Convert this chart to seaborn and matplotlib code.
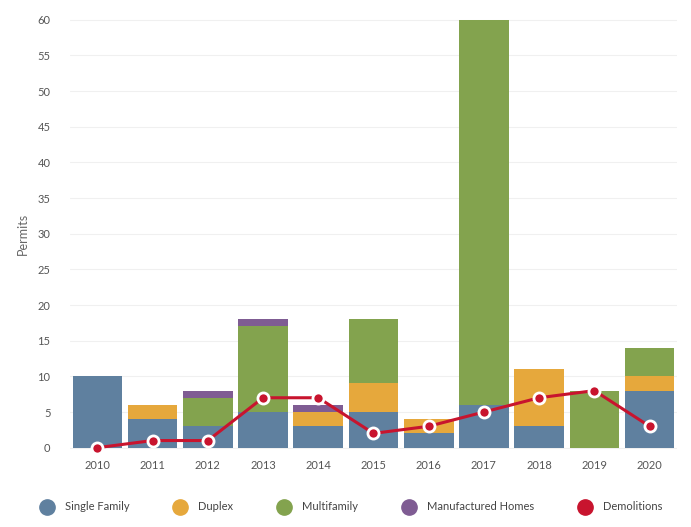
import matplotlib

matplotlib.use("Agg")
import matplotlib.pyplot as plt  # noqa: E402
import numpy as np  # noqa: E402
import pandas as pd  # noqa: E402
import seaborn as sns  # noqa: E402
from matplotlib.lines import Line2D  # noqa: E402

years = ["2010", "2011", "2012", "2013", "2014", "2015", "2016", "2017", "2018", "2019", "2020"]
single_family = [10, 4, 3, 5, 3, 5, 2, 6, 3, 0, 8]
duplex = [0, 2, 0, 0, 2, 4, 2, 0, 8, 0, 2]
multifamily = [0, 0, 4, 12, 0, 9, 0, 54, 0, 8, 4]
manufactured = [0, 0, 1, 1, 1, 0, 0, 0, 0, 0, 0]
demolitions = [0, 1, 1, 7, 7, 2, 3, 5, 7, 8, 3]

series_names = ["Single Family", "Duplex", "Multifamily", "Manufactured Homes"]
colors = {
    "Single Family": "#5f809f",
    "Duplex": "#e6a83c",
    "Multifamily": "#83a34e",
    "Manufactured Homes": "#7f5c93",
    "Demolitions": "#c8142e",
}

df = pd.DataFrame({
    "year": years,
    "Single Family": single_family,
    "Duplex": duplex,
    "Multifamily": multifamily,
    "Manufactured Homes": manufactured,
    "Demolitions": demolitions,
})

sns.set_style("white")
plt.rcParams["font.family"] = ["Lato", "DejaVu Sans"]

fig = plt.figure(figsize=(6.91, 5.27), dpi=100)
ax = fig.add_axes([0.101, 0.137, 0.879, 0.839])

# stacked bars, one seaborn call per housing type
bottom = np.zeros(len(years))
for name in series_names:
    sns.barplot(
        data=df, x="year", y=name, color=colors[name], bottom=bottom,
        width=0.9, saturation=1, linewidth=0, ax=ax, zorder=2,
    )
    bottom = bottom + df[name].to_numpy()

sns.pointplot(
    data=df, x="year", y="Demolitions", color=colors["Demolitions"],
    markers="o", markersize=8, markeredgecolor="white", markeredgewidth=2,
    linewidth=2.2, ax=ax, zorder=4,
)

ax.set_ylim(-1, 61)
ax.set_xlim(-0.5, 10.5)
ax.set_yticks(range(0, 61, 5))
ax.yaxis.grid(True, color="#f0f0f0", linewidth=0.8, zorder=0)
ax.set_axisbelow(True)
for s in ax.spines.values():
    s.set_visible(False)
ax.tick_params(axis="both", length=0, labelsize=8, colors="#555555")
ax.tick_params(axis="y", pad=14)
ax.set_xlabel("")
ax.set_ylabel("Permits", fontsize=9, color="#666666", labelpad=6)

handles = [
    Line2D([], [], marker="o", linestyle="", markersize=11,
           markerfacecolor=colors[n], markeredgecolor=colors[n], label=n)
    for n in series_names + ["Demolitions"]
]
fig.legend(
    handles=handles, loc="center", bbox_to_anchor=(0.505, 0.038), ncol=5,
    frameon=False, fontsize=8, handletextpad=0.6, columnspacing=3.6,
    labelcolor="#444444",
)

fig.savefig("out.png", dpi=100)
